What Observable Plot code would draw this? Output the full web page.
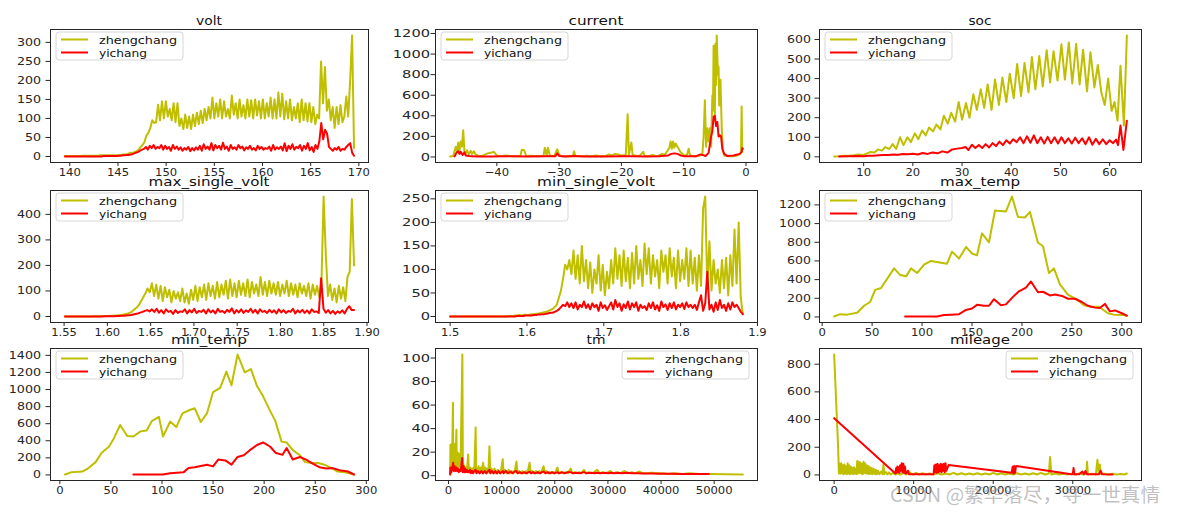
<!DOCTYPE html>
<html><head><meta charset="utf-8">
<script src="https://cdn.jsdelivr.net/npm/d3@7"></script>
<script src="https://cdn.jsdelivr.net/npm/@observablehq/plot@0.6"></script>
<style>
body{margin:0;background:#fff;}
#root{position:relative;width:1177px;height:513px;overflow:hidden;background:#fff;}
#root svg.plot{position:absolute;}
#overlay{position:absolute;left:0;top:0;pointer-events:none;}
</style></head>
<body><div id="root"></div>
<script>
// ---------------- data ----------------
const seriesNames = ["zhengchang", "yichang"];
const titles = ["volt","current","soc","max_single_volt","min_single_volt","max_temp","min_temp","tm","mileage"];

// volt (evenly sampled between voltRange)
const voltRange = [139.5, 169.5];
const voltNormal = [1,1,1,1,1,1,1,1,1,2,2,2,2,2,2,2,2,2,3,3,3,3,3,3,3,3,3,3,
 3,4,5,5,6,8,10,9,12,14,
 18,25,30,38,55,62,75,95,88,90,136,95,145,100,145,105,125,95,140,90,140,80,100,72,110,75,105,72,110,80,115,85,120,88,125,95,130,100,155,100,140,105,150,100,145,105,125,100,160,110,140,100,150,105,135,100,150,105,148,100,150,108,145,100,150,100,140,105,155,100,150,100,168,105,165,98,145,100,150,95,130,100,140,90,150,95,140,92,140,90,130,85,110,100,250,140,235,120,150,95,130,75,130,85,135,90,105,158,105,200,318,22];
const voltAbnormal = [0,0,0,0,0,0,0,0,0,0,0,0,0,0,0,0,0,0,0,0,1,1,1,1,1,1,1,1,
 2,2,3,3,4,4,5,6,8,10,
 12,15,18,20,25,18,28,22,30,20,25,
 22,30,18,28,20,25,15,30,20,26,18,24,15,22,18,25,14,22,16,24,
 18,28,15,32,20,26,18,35,16,30,22,28,18,36,20,26,15,30,20,24,
 18,30,22,26,16,24,20,28,18,22,16,28,20,25,18,22,20,26,15,30,
 18,24,20,26,16,35,14,28,20,32,18,25,22,30,15,28,20,35,16,25,12,30,20,
 40,88,45,70,60,25,20,15,22,18,25,15,20,18,25,30,35,10,2];

// current [x, count]
const currentNormal = [[-47.5,5],[-47.0,10],[-46.6,100],[-46.4,50],[-46.2,140],[-46.0,60],[-45.8,150],[-45.6,100],[-45.4,260],[-45.2,50],[-45.0,30],[-44.8,65],[-44.5,25],[-44.2,60],[-44.0,30],[-43.7,55],[-43.4,25],[-43.0,12],[-42.5,8],[-42.0,20],[-41.5,35],[-41.0,40],[-40.5,50],[-40.0,15],[-39.5,10],[-39.0,12],[-38.5,15],[-38.0,10],[-37.0,8],[-36.2,12],[-36.0,70],[-35.6,65],[-35.3,10],[-34.5,12],[-33.5,6],[-32.5,12],[-32.3,90],[-32.0,15],[-31.8,90],[-31.5,15],[-30.8,8],[-30.3,75],[-30.0,20],[-29.5,6],[-28.5,6],[-27.8,10],[-27.6,55],[-27.4,10],[-26.5,6],[-25.5,12],[-25.0,6],[-24.0,15],[-23.5,6],[-22.5,10],[-22.0,25],[-21.5,15],[-21.0,30],[-20.5,25],[-20.0,15],[-19.3,20],[-19.0,415],[-18.8,20],[-18.4,140],[-18.2,20],[-17.5,10],[-17.0,15],[-16.5,50],[-16.3,10],[-15.5,10],[-15.0,20],[-14.5,10],[-14.0,12],[-13.5,30],[-13.0,25],[-12.6,60],[-12.3,90],[-12.1,150],[-11.9,80],[-11.7,150],[-11.5,90],[-11.3,130],[-11.0,100],[-10.8,80],[-10.5,45],[-10.2,30],[-10.0,20],[-9.5,15],[-9.2,80],[-9.0,20],[-8.5,8],[-8.0,6],[-7.5,12],[-7.0,25],[-6.8,200],[-6.6,550],[-6.4,100],[-6.2,280],[-6.0,150],[-5.8,280],[-5.6,100],[-5.4,600],[-5.3,450],[-5.2,1080],[-5.0,400],[-4.9,1100],[-4.8,700],[-4.7,1180],[-4.5,800],[-4.4,880],[-4.3,500],[-4.1,750],[-3.9,300],[-3.7,60],[-3.5,15],[-3.0,8],[-2.0,8],[-1.5,12],[-1.0,25],[-0.8,40],[-0.7,490],[-0.6,50]];
const currentAbnormal = [[-46.8,5],[-46.5,40],[-46.2,55],[-46.0,30],[-45.8,50],[-45.5,20],[-45.2,45],[-45.0,15],[-44.5,10],[-44.0,8],[-43.0,5],[-41.0,5],[-38.0,6],[-35.0,5],[-32.0,6],[-30.6,8],[-30.3,35],[-30.0,10],[-29.0,5],[-27.6,10],[-26.0,5],[-23.0,5],[-20.0,6],[-18.5,8],[-16.0,5],[-14.0,6],[-12.5,15],[-12.0,30],[-11.5,35],[-11.0,30],[-10.5,15],[-10.0,8],[-9.0,6],[-8.0,8],[-7.3,25],[-7.0,20],[-6.5,10],[-6.0,40],[-5.6,200],[-5.4,250],[-5.2,390],[-5.0,400],[-4.8,300],[-4.6,340],[-4.4,200],[-4.2,210],[-4.0,200],[-3.8,80],[-3.5,30],[-3.0,10],[-2.0,15],[-1.0,30],[-0.7,50],[-0.6,85],[-0.5,80]];

// soc [x, count]
const socNormal = [[4,2],[5,3],[6,5],[7,6],[8,8],[9,12],[10,10],[10.7,18],[11.4,25],[12.2,22],[12.9,38],[13.7,32],[14.4,50],[15.2,40],[15.9,65],[16.6,40],[17.4,100],[18.1,60],[18.9,100],[19.6,75],[20.4,120],[21.1,90],[21.9,135],[22.6,110],[23.3,150],[24.1,130],[24.8,165],[25.6,140],[26.3,210],[27.1,170],[27.8,225],[28.6,180],[29.3,280],[30.0,190],[30.8,275],[31.5,200],[32.3,320],[33.0,240],[33.8,345],[34.5,250],[35.2,370],[36.0,240],[36.7,395],[37.5,265],[38.2,405],[39.0,280],[39.7,425],[40.5,300],[41.2,475],[42.0,310],[42.7,480],[43.5,330],[44.2,510],[44.9,345],[45.7,515],[46.4,360],[47.2,545],[47.9,380],[48.6,540],[49.4,390],[50.2,575],[50.9,395],[51.7,585],[52.4,375],[53.2,578],[53.9,370],[54.6,548],[55.4,335],[56.1,535],[56.9,355],[57.6,470],[58.3,330],[59.0,265],[59.7,400],[60.4,235],[61.0,280],[61.6,185],[62.2,465],[62.9,160],[63.5,620]];
const socAbnormal = [[5,2],[7,3],[9,4],[10,3],[11,5],[12,6],[13,8],[14,9],[15,10],[16,12],[17,11],[18,15],[19,13],[20,16],[21,12],[22,20],[23,15],[24,22],[25,18],[26,28],[27,22],[28,38],[29,42],[30,45],[30.7,50],[31.3,35],[32,62],[32.7,45],[33.4,60],[34.1,45],[34.8,65],[35.5,48],[36.2,70],[36.9,55],[37.6,78],[38.3,60],[39,85],[39.7,68],[40.4,90],[41.1,75],[41.8,100],[42.5,70],[43.2,105],[43.9,72],[44.6,110],[45.3,70],[46,100],[46.7,68],[47.4,102],[48.1,70],[48.8,100],[49.5,68],[50.2,100],[50.9,70],[51.6,95],[52.3,68],[53,98],[53.7,70],[54.4,95],[55.1,65],[55.8,100],[56.5,62],[57.2,92],[57.9,65],[58.6,90],[59.3,65],[60,85],[60.7,70],[61.3,88],[61.7,60],[62.2,160],[62.8,35],[63.5,185]];

// max_single_volt (evenly sampled between maxSvRange)
const maxSvRange = [1.551, 1.885];
const maxSvNormal = [0,0,0,0,0,0,0,0,0,0,0,0,0,1,1,1,1,2,2,2,
 2,3,3,4,4,5,6,8,10,12,
 15,20,28,35,45,60,75,90,110,95,
 130,80,125,70,120,60,115,75,105,55,
 100,70,95,60,110,55,90,50,105,65,
 120,60,115,75,125,65,130,80,120,70,
 135,75,125,85,140,70,145,80,130,75,
 140,85,130,80,145,75,135,90,125,80,
 155,85,135,80,140,90,130,85,135,80,
 125,90,140,80,130,85,125,75,130,90,
 120,80,130,70,125,85,120,75,130,470,
 245,80,125,65,110,55,120,70,115,60,
 155,175,460,200];
const maxSvAbnormal = [0,0,0,0,0,0,0,0,0,0,0,0,0,0,0,0,0,1,1,1,
 1,1,2,2,3,3,4,5,6,8,
 10,12,15,18,22,25,20,28,18,30,
 15,25,12,28,18,22,10,25,14,20,
 18,28,12,25,16,30,14,22,18,26,
 12,28,16,24,12,30,18,22,14,26,
 18,32,12,25,16,28,14,24,18,30,
 15,26,12,28,18,22,14,26,16,24,
 12,28,16,25,14,22,18,30,12,24,
 16,26,14,24,12,28,18,20,14,150,
 30,15,25,12,22,10,20,14,24,12,
 30,40,25,25];

// min_single_volt (evenly sampled between minSvRange)
const minSvRange = [1.5, 1.881];
const minSvNormal = [0,0,0,0,0,0,0,0,0,0,0,0,0,0,0,0,0,0,0,0,0,0,0,0,0,0,0,0,1,1,1,
 2,2,3,2,3,4,3,4,5,
 5,6,6,7,8,9,10,12,14,
 16,20,25,40,55,80,110,100,120,
 90,140,80,130,70,150,75,120,60,
 115,50,100,70,130,55,110,45,95,
 60,120,70,145,80,130,65,140,75,
 125,60,135,70,150,80,120,65,155,
 90,145,70,130,85,120,60,140,95,
 130,70,145,85,125,60,140,75,120,
 80,145,65,140,70,125,55,130,65,
 230,255,60,160,55,120,70,100,50,
 120,60,125,45,130,65,185,70,200,
 40,5];
const minSvAbnormal = [0,0,0,0,0,0,0,0,0,0,0,0,0,0,0,0,0,0,0,0,0,0,0,0,0,0,0,0,0,0,0,
 0,1,1,1,1,2,2,2,2,
 3,3,4,4,5,5,6,7,8,
 8,10,12,15,20,25,22,30,20,
 28,18,30,15,25,20,32,18,26,
 15,28,20,25,12,30,18,24,14,
 22,30,15,35,20,28,12,26,18,
 32,15,28,20,30,12,25,18,22,
 14,28,18,30,15,24,12,32,20,
 26,14,28,18,30,15,25,20,28,
 16,30,20,25,18,25,14,30,45,
 12,28,95,15,25,10,30,14,35,
 18,25,12,28,15,30,20,25,18,
 10,5];

// max_temp [x, count]
const maxTempNormal = [[12,5],[18,30],[25,25],[35,45],[42,120],[48,160],[53,290],[59,310],[72,520],[78,450],[84,435],[89,520],[95,470],[102,560],[109,600],[125,570],[130,700],[137,625],[144,750],[150,680],[155,660],[160,895],[167,800],[173,1140],[184,1130],[190,1290],[196,1070],[203,1065],[208,1125],[216,795],[221,760],[227,470],[232,520],[238,350],[246,240],[256,180],[262,125],[269,110],[277,110],[286,40],[292,25],[302,20],[305,10]];
const maxTempAbnormal = [[83,5],[115,5],[122,20],[129,25],[137,30],[144,75],[150,90],[155,130],[162,120],[167,120],[172,190],[179,125],[184,135],[191,215],[197,275],[204,315],[209,380],[216,265],[221,270],[228,230],[233,240],[240,225],[246,195],[253,195],[260,160],[266,120],[273,100],[278,95],[283,140],[288,60],[293,70],[300,40],[305,15]];

// min_temp [x, count]
const minTempNormal = [[5,5],[11,30],[22,40],[28,80],[35,150],[41,260],[48,330],[53,430],[59,585],[66,455],[72,450],[79,510],[85,520],[90,630],[97,680],[101,450],[108,625],[114,560],[120,720],[127,760],[132,780],[138,620],[144,720],[150,970],[157,1020],[163,1210],[168,1050],[174,1410],[181,1200],[187,1240],[193,1040],[199,920],[205,770],[211,630],[217,390],[222,380],[228,290],[235,230],[240,150],[246,140],[253,140],[259,120],[266,80],[272,40],[279,30],[288,5]];
const minTempAbnormal = [[72,5],[101,5],[108,20],[121,30],[126,80],[132,90],[144,120],[150,100],[155,180],[162,170],[168,120],[174,210],[180,230],[186,290],[193,350],[199,380],[206,330],[211,260],[218,235],[222,315],[228,180],[235,210],[241,180],[248,130],[254,90],[261,75],[267,80],[274,55],[282,40],[288,5]];

// tm [x, count]
const tmNormal = [[300,1],[350,26],[450,3],[550,27],[650,8],[830,62],[900,5],[1000,18],[1100,6],[1200,27],[1300,8],[1480,39],[1550,6],[1650,20],[1750,5],[1850,19],[1950,8],[2100,18],[2250,6],[2600,103],[2700,5],[2800,10],[2900,4],[3000,8],[3150,3],[3300,7],[3450,4],[3700,18],[3800,5],[3900,3],[4050,7],[4200,3],[4350,6],[4500,3],[4700,7],[4850,3],[5100,41],[5200,4],[5300,6],[5450,3],[5650,8],[5850,3],[6050,7],[6250,3],[6500,11],[6700,3],[6900,7],[7100,3],[7300,6],[7500,3],[7700,25],[7850,3],[8100,6],[8350,2],[8650,6],[8950,2],[9250,5],[9600,2],[9900,5],[10200,14],[10350,3],[10650,5],[10950,2],[11300,5],[11600,2],[11900,4],[12200,2],[12500,5],[12780,12],[12950,3],[13300,4],[13600,2],[13900,4],[14250,2],[14550,4],[14850,2],[15260,11],[15450,3],[15800,4],[16100,2],[16450,4],[16750,2],[17050,4],[17400,2],[17880,8],[18100,3],[18400,4],[18750,2],[19050,3],[19350,2],[19700,3],[20000,2],[20500,7],[20700,2],[21100,3],[21550,2],[22000,3],[22400,2],[22990,6],[23300,2],[23750,3],[24200,2],[24600,3],[25000,2],[25490,5],[25850,2],[26350,3],[26900,2],[27400,3],[27980,5],[28450,2],[28950,3],[29500,2],[30000,3],[30470,4],[30950,2],[31600,3],[32250,2],[33150,4],[33800,2],[34500,3],[35050,2],[35950,3.5],[36600,2],[37450,2],[38200,2.5],[39250,2],[40300,2],[41350,1.5],[42400,2],[44000,1.5],[45500,2],[47100,1.5],[49200,1.5],[52300,1.2],[55400,1]];
const tmAbnormal = [[300,1],[350,7],[520,3],[680,6],[870,11],[990,4],[1150,8],[1310,4],[1470,7],[1620,4],[1780,6],[1940,3],[2100,5],[2300,4],[2560,15],[2670,3],[2830,8],[2980,3],[3140,6],[3300,3],[3450,5],[3610,3],[3740,4],[3870,3],[4030,5],[4190,2],[4400,4],[4610,2],[4820,4],[5110,5],[5240,2],[5550,4],[5860,2],[6180,4],[6490,2],[6810,4],[7120,2],[7430,4],[7730,5],[7850,2],[8170,4],[8480,2],[8800,4],[9110,2],[9420,4],[9740,2],[10220,4],[10370,2],[10780,4],[11200,2],[11620,3.5],[12040,2],[12460,3.5],[12780,4],[12980,2],[13400,3],[13820,2],[14240,3],[14660,2],[15260,3.5],[15500,2],[15910,3],[16330,2],[16750,3],[17170,2],[17590,3],[17880,3.5],[18220,2],[18640,3],[19060,2],[19470,3],[19890,2],[20500,3],[20840,2],[21360,3],[21880,2],[22410,3],[22990,3],[23450,2],[24080,2.5],[24710,2],[25490,3],[25970,2],[26700,2.5],[27430,2],[27980,2.5],[28580,2],[29320,2.5],[30050,2],[30470,2.5],[31200,2],[31930,2.5],[32670,2],[33500,2.5],[34550,2],[35600,2],[36650,1.8],[38220,1.8],[39790,1.6],[41880,1.6],[43970,1.5],[46070,1.5],[49000,1.4]];

// mileage [x, count]
const mileageNormal = [[0,870],[500,200],[600,10],[700,80],[800,10],[900,85],[1000,10],[1100,70],[1200,5],[1300,75],[1400,10],[1500,60],[1600,5],[1700,85],[1800,10],[1900,70],[2000,5],[2100,60],[2200,10],[2300,50],[2400,5],[2500,55],[2600,10],[2700,45],[2800,5],[2900,100],[3000,10],[3100,95],[3200,15],[3300,90],[3400,10],[3500,80],[3600,5],[3700,95],[3800,15],[3900,85],[4000,10],[4100,70],[4200,10],[4300,65],[4400,5],[4500,55],[4600,10],[4700,50],[4800,5],[4900,45],[5000,10],[5100,40],[5200,5],[5300,35],[5400,5],[5500,30],[5700,5],[5900,25],[6100,5],[6200,75],[6300,5],[6500,20],[6700,3],[6900,18],[7100,3],[7400,15],[7700,3],[8000,12],[8300,3],[8700,15],[9100,3],[9500,18],[9900,3],[10300,15],[10700,3],[11100,12],[11500,3],[12000,10],[12500,3],[13000,12],[13500,3],[14000,10],[14500,3],[15000,15],[15500,3],[16000,12],[16500,3],[17000,10],[17500,3],[18000,12],[18500,3],[19000,10],[19500,3],[20000,15],[20500,3],[21000,12],[21500,3],[22000,10],[22500,3],[23000,12],[23500,3],[24000,10],[24500,3],[25000,12],[25500,3],[26000,15],[26500,3],[27000,10],[27150,130],[27300,3],[27800,10],[28300,3],[28800,8],[29300,3],[29800,8],[30300,3],[30800,10],[31300,3],[31700,8],[31800,95],[31900,3],[32400,8],[32900,3],[33100,110],[33250,20],[33400,75],[33550,5],[34000,8],[34500,3],[35000,8],[35500,3],[36000,6],[36500,3],[36800,10]];
const mileageAbnormal = [[0,410],[7700,10],[7800,50],[7850,15],[7950,60],[8000,20],[8100,55],[8200,15],[8300,70],[8400,30],[8500,85],[8600,20],[8700,80],[8800,15],[8900,60],[9000,10],[9300,30],[9400,5],[12500,5],[12600,70],[12700,20],[12800,75],[12900,15],[13000,80],[13100,20],[13200,70],[13300,25],[13400,80],[13500,20],[13600,75],[13700,30],[13800,80],[13900,20],[14000,85],[14100,30],[14400,72],[22300,15],[22450,60],[22550,10],[22650,65],[22750,15],[22850,60],[22900,65],[29800,5],[30000,5],[30100,50],[30200,5],[30800,5],[31200,25],[31400,5],[31600,28],[31800,5],[32500,5],[33300,5],[33500,30],[33700,5],[35000,3]];

// tick values
const voltXTicks = [140,145,150,155,160,165,170], voltYTicks = [0,50,100,150,200,250,300];
const currentXTicks = [-40,-30,-20,-10,0], currentYTicks = [0,200,400,600,800,1000,1200];
const socXTicks = [10,20,30,40,50,60], socYTicks = [0,100,200,300,400,500,600];
const maxSvXTicks = [1.55,1.60,1.65,1.70,1.75,1.80,1.85,1.90], maxSvYTicks = [0,100,200,300,400];
const minSvXTicks = [1.5,1.6,1.7,1.8,1.9], minSvYTicks = [0,50,100,150,200,250];
const maxTempXTicks = [0,50,100,150,200,250,300], maxTempYTicks = [0,200,400,600,800,1000,1200];
const minTempXTicks = [0,50,100,150,200,250,300], minTempYTicks = [0,200,400,600,800,1000,1200,1400];
const tmXTicks = [0,10000,20000,30000,40000,50000], tmYTicks = [0,20,40,60,80,100];
const mileageXTicks = [0,10000,20000,30000], mileageYTicks = [0,200,400,600,800];

// ---------------- layout / drawing ----------------
const OLIVE = "#bfbf00", RED = "#ff0000", INK = "#262626";
const cols = [[50,368],[435,757],[819,1141]];
const rows = [[29,162],[190,322],[348,480]];
const yLabelStretch = [1.15, 1.33, 1.14];
const yLabelPad = [5, 1, 4];
const evenly = (range, ys) => ys.map((y, i) => [range[0] + (range[1]-range[0]) * i / (ys.length - 1), y]);
const padExt = ext => { const s = ext[1]-ext[0]; return [ext[0]-0.05*s, ext[1]+0.05*s]; };
const fInt = d3.format("d");

const panels = [
  {normal: evenly(voltRange, voltNormal), abnormal: evenly(voltRange, voltAbnormal), xt: voltXTicks, yt: voltYTicks, xf: fInt, leg: "left", tw: 26},
  {normal: currentNormal, abnormal: currentAbnormal, xt: currentXTicks, yt: currentYTicks, xf: fInt, leg: "left", tw: 55},
  {normal: socNormal, abnormal: socAbnormal, xt: socXTicks, yt: socYTicks, xf: fInt, leg: "left", tw: 23},
  {normal: evenly(maxSvRange, maxSvNormal), abnormal: evenly(maxSvRange, maxSvAbnormal), xt: maxSvXTicks, yt: maxSvYTicks, xf: d3.format(".2f"), leg: "left", tw: 121},
  {normal: evenly(minSvRange, minSvNormal), abnormal: evenly(minSvRange, minSvAbnormal), xt: minSvXTicks, yt: minSvYTicks, xf: d3.format(".1f"), leg: "left", tw: 118},
  {normal: maxTempNormal, abnormal: maxTempAbnormal, xt: maxTempXTicks, yt: maxTempYTicks, xf: fInt, leg: "left", tw: 80},
  {normal: minTempNormal, abnormal: minTempAbnormal, xt: minTempXTicks, yt: minTempYTicks, xf: fInt, leg: "left", tw: 76},
  {normal: tmNormal, abnormal: tmAbnormal, xt: tmXTicks, yt: tmYTicks, xf: fInt, leg: "right", tw: 19},
  {normal: mileageNormal, abnormal: mileageAbnormal, xt: mileageXTicks, yt: mileageYTicks, xf: fInt, leg: "right", tw: 60},
];

const root = document.getElementById("root");
const mL = 48, mR = 6, mT = 4, mB = 24;

panels.forEach((p, k) => {
  const c = k % 3;
  const [fl, fr] = cols[c], [ft, fb] = rows[Math.floor(k / 3)];
  const all = p.normal.concat(p.abnormal);
  const xd = padExt(d3.extent(all, d => d[0]));
  const yd = padExt(d3.extent(all, d => d[1]));
  const svg = Plot.plot({
    width: fr - fl + mL + mR, height: fb - ft + mT + mB,
    marginLeft: mL, marginRight: mR, marginTop: mT, marginBottom: mB,
    x: {domain: xd}, y: {domain: yd},
    style: {fontFamily: "'DejaVu Sans', sans-serif", fontSize: "11px", color: INK, background: "transparent", overflow: "visible"},
    marks: [
      Plot.line(p.normal, {x: d => d[0], y: d => d[1], stroke: OLIVE, strokeWidth: 2}),
      Plot.line(p.abnormal, {x: d => d[0], y: d => d[1], stroke: RED, strokeWidth: 2}),
      Plot.frame({stroke: INK, strokeWidth: 1}),
      Plot.axisX({ticks: p.xt, tickFormat: p.xf, tickSize: 4, tickPadding: 2, label: null, stroke: INK, fill: INK}),
      Plot.axisY({ticks: p.yt, tickFormat: fInt, tickSize: 4.5, tickPadding: yLabelPad[c], label: null, stroke: INK, fill: INK})
    ]
  });
  svg.classList.add("plot");
  svg.style.left = (fl - mL) + "px";
  svg.style.top = (ft - mT) + "px";
  root.appendChild(svg);
  // widen tick labels horizontally like the reference picture
  svg.querySelectorAll("text").forEach(t => {
    const grp = t.closest("g[aria-label]");
    const isY = grp && (grp.getAttribute("aria-label") || "").startsWith("y-axis");
    const f = isY ? yLabelStretch[c] : 1.05;
    const L = t.getComputedTextLength();
    if (L > 0) { t.setAttribute("textLength", (L * f).toFixed(1)); t.setAttribute("lengthAdjust", "spacingAndGlyphs"); }
  });
});

// overlay: titles, legends, watermark
const ov = d3.select(root).append("svg").attr("id", "overlay").attr("width", 1177).attr("height", 513)
  .style("font-family", "'DejaVu Sans', sans-serif");
panels.forEach((p, k) => {
  const [fl, fr] = cols[k % 3], [ft] = rows[Math.floor(k / 3)];
  ov.append("text").attr("x", (fl + fr) / 2).attr("y", ft - 4).attr("text-anchor", "middle")
    .attr("font-size", 13).attr("fill", "#111").attr("textLength", p.tw).attr("lengthAdjust", "spacingAndGlyphs")
    .text(titles[k]);
  const lw = 127, lh = 28;
  const lx = p.leg === "left" ? fl + 6 : fr - 8 - lw, ly = ft + 3;
  const g = ov.append("g").attr("transform", `translate(${lx},${ly})`);
  g.append("rect").attr("width", lw).attr("height", lh).attr("rx", 3)
    .attr("fill", "rgba(255,255,255,0.85)").attr("stroke", "#d6d6d6").attr("stroke-width", 1);
  [[OLIVE, 7.5, 78], [RED, 20.5, 48]].forEach(([col, yy, w], j) => {
    g.append("line").attr("x1", 5).attr("x2", 32).attr("y1", yy).attr("y2", yy).attr("stroke", col).attr("stroke-width", 2);
    g.append("text").attr("x", 43).attr("y", yy + 4).attr("font-size", 11).attr("fill", "#111")
      .attr("textLength", w).attr("lengthAdjust", "spacingAndGlyphs").text(seriesNames[j]);
  });
});
ov.append("text").attr("x", 890).attr("y", 502).attr("font-size", 19)
  .attr("font-family", "'Noto Sans CJK SC', sans-serif")
  .attr("fill", "rgba(150,150,150,0.6)").attr("textLength", 270).attr("lengthAdjust", "spacingAndGlyphs")
  .text("CSDN @繁华落尽，寻一世真情");
</script>
</body></html>
